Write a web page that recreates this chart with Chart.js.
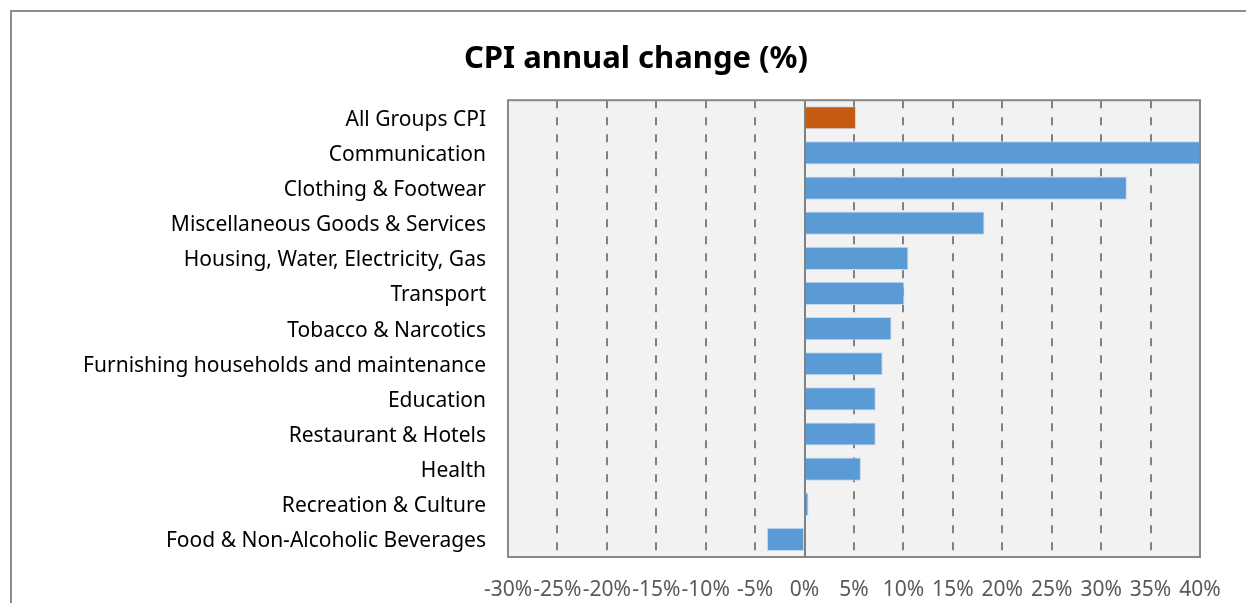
<!DOCTYPE html>
<html>
<head>
<meta charset="utf-8">
<script src="https://cdn.jsdelivr.net/npm/chart.js@4"></script>
<style>
  body { margin: 0; background: #fff; overflow: hidden; }
  #frame { position: absolute; left: 10px; top: 10px; width: 1300px; height: 700px;
           border-left: 2px solid #8c8c8c; border-top: 2px solid #8c8c8c; }
  #wrap { position: absolute; left: 0; top: 0; width: 1272px; height: 603px; }
</style>
</head>
<body>
<div id="frame"></div>
<div id="wrap"><canvas id="myChart"></canvas></div>
<script>
const categories = [
    'All Groups CPI',
    'Communication',
    'Clothing & Footwear',
    'Miscellaneous Goods & Services',
    'Housing, Water, Electricity, Gas',
    'Transport',
    'Tobacco & Narcotics',
    'Furnishing households and maintenance',
    'Education',
    'Restaurant & Hotels',
    'Health',
    'Recreation & Culture',
    'Food & Non-Alcoholic Beverages'
];
const changes = [5.2, 41.5, 32.6, 18.2, 10.5, 10.1, 8.8, 7.9, 7.2, 7.2, 5.7, 0.4, -3.8];
const barColors = ['#c55a11', '#5b9bd5', '#5b9bd5', '#5b9bd5', '#5b9bd5', '#5b9bd5', '#5b9bd5',
                   '#5b9bd5', '#5b9bd5', '#5b9bd5', '#5b9bd5', '#5b9bd5', '#5b9bd5'];
const xMin = -30;
const xMax = 40;
const xStep = 5;

const FONT = "'Noto Sans', 'Open Sans', sans-serif";

// plot area background and frame
const plotFrame = {
    id: 'plotFrame',
    beforeDraw(chart) {
        const a = chart.chartArea, ctx = chart.ctx;
        ctx.save();
        ctx.fillStyle = '#f2f2f2';
        ctx.fillRect(a.left, a.top, a.right - a.left, a.bottom - a.top);
        ctx.restore();
    },
    afterDatasetsDraw(chart) {
        const a = chart.chartArea, ctx = chart.ctx;
        ctx.save();
        ctx.strokeStyle = '#898989';
        ctx.lineWidth = 2;
        ctx.strokeRect(a.left, a.top, a.right - a.left, a.bottom - a.top);
        ctx.restore();
    }
};

const ctx = document.getElementById('myChart').getContext('2d');
const myChart = new Chart(ctx, {
    type: 'bar',
    data: {
        labels: categories,
        datasets: [{
            data: changes,
            backgroundColor: barColors,
            borderColor: 'rgba(189, 215, 238, 0.9)',
            borderWidth: 1,
            borderSkipped: 'start',
            barPercentage: 0.66,
            categoryPercentage: 1.0
        }]
    },
    options: {
        indexAxis: 'y',
        responsive: true,
        maintainAspectRatio: false,
        animation: false,
        layout: { padding: { left: 72, right: 72, top: 0, bottom: 0 } },
        plugins: {
            legend: { display: false },
            tooltip: { enabled: false },
            title: {
                display: true,
                text: 'CPI annual change (%)',
                color: '#000',
                font: { family: FONT, size: 31, weight: 'bold' },
                padding: { top: 41, bottom: 22 }
            }
        },
        scales: {
            x: {
                min: xMin,
                max: xMax,
                ticks: {
                    stepSize: xStep,
                    autoSkip: false,
                    maxRotation: 0,
                    minRotation: 0,
                    padding: 20,
                    color: '#595959',
                    font: { family: FONT, size: 21 },
                    callback: v => v + '%'
                },
                grid: {
                    color: '#808080',
                    lineWidth: 2,
                    drawTicks: false
                },
                border: {
                    display: false,
                    dash: c => (c.tick && c.tick.value === 0) ? [] : [8, 9]
                },
                afterFit: s => { s.height = 46; }
            },
            y: {
                ticks: {
                    padding: 14,
                    labelOffset: 2,
                    color: '#000',
                    font: { family: FONT, size: 21 }
                },
                grid: { display: false },
                border: { display: false },
                afterFit: s => { s.width = 508 - 72; }
            }
        }
    },
    plugins: [plotFrame]
});
</script>
</body>
</html>
